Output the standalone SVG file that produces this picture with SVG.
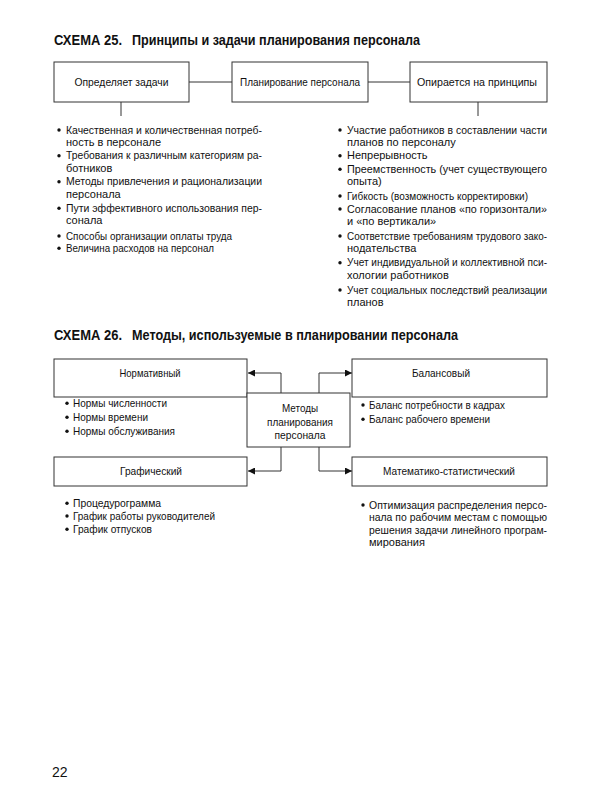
<svg xmlns="http://www.w3.org/2000/svg" width="600" height="800" viewBox="0 0 600 800">
<defs>
<style>
.t{font-family:"Liberation Sans",Arial,sans-serif;font-size:14px;font-weight:bold;fill:#111}
.b{font-family:"Liberation Sans",Arial,sans-serif;font-size:11px;fill:#111}
.c{text-anchor:middle}
.box{fill:#fff;stroke:#333;stroke-width:1}
.ln{fill:none;stroke:#333;stroke-width:1}
.dot{fill:#111}
</style>
<marker id="ah" viewBox="0 0 10 10" refX="10" refY="5" markerWidth="8" markerHeight="7" markerUnits="userSpaceOnUse" orient="auto">
<path d="M0,0 L10,5 L0,10 z" fill="#111"/>
</marker>
</defs>
<rect width="600" height="800" fill="#fff"/>

<!-- Schema 25 -->
<text class="t" y="45"><tspan x="54" textLength="68" lengthAdjust="spacingAndGlyphs">СХЕМА 25.</tspan><tspan x="132" textLength="288" lengthAdjust="spacingAndGlyphs">Принципы и задачи планирования персонала</tspan></text>

<g id="connectors25">
<line class="ln" x1="189" y1="82" x2="232" y2="82"/>
<line class="ln" x1="368" y1="82" x2="410" y2="82"/>
<line class="ln" x1="121" y1="102" x2="121" y2="116"/>
<line class="ln" x1="478" y1="102" x2="478" y2="116"/>
</g>

<g id="n-zadachi">
<rect class="box" x="54" y="62" width="135" height="40"/>
<text class="b c" x="121.5" y="86" textLength="94" lengthAdjust="spacingAndGlyphs">Определяет задачи</text>
</g>
<g id="n-planirovanie">
<rect class="box" x="232" y="62" width="136" height="40"/>
<text class="b c" x="300" y="86" textLength="120" lengthAdjust="spacingAndGlyphs">Планирование персонала</text>
</g>
<g id="n-principy">
<rect class="box" x="410" y="62" width="137" height="40"/>
<text class="b c" x="477" y="86" textLength="120" lengthAdjust="spacingAndGlyphs">Опирается на принципы</text>
</g>

<g id="list-zadachi">
<circle class="dot" cx="59" cy="130" r="1.7"/>
<text class="b" x="66" y="133.5" textLength="196" lengthAdjust="spacingAndGlyphs">Качественная и количественная потреб-</text>
<text class="b" x="66" y="145.8">ность в персонале</text>
<circle class="dot" cx="59" cy="155.7" r="1.7"/>
<text class="b" x="66" y="159.2" textLength="196" lengthAdjust="spacingAndGlyphs">Требования к различным категориям ра-</text>
<text class="b" x="66" y="171.8">ботников</text>
<circle class="dot" cx="59" cy="181.7" r="1.7"/>
<text class="b" x="66" y="185.2" textLength="196" lengthAdjust="spacingAndGlyphs">Методы привлечения и рационализации</text>
<text class="b" x="66" y="197.8">персонала</text>
<circle class="dot" cx="59" cy="208.3" r="1.7"/>
<text class="b" x="66" y="211.8" textLength="196" lengthAdjust="spacingAndGlyphs">Пути эффективного использования пер-</text>
<text class="b" x="66" y="224.2">сонала</text>
<circle class="dot" cx="59" cy="236" r="1.7"/>
<text class="b" x="66" y="239.5" textLength="166" lengthAdjust="spacingAndGlyphs">Способы организации оплаты труда</text>
<circle class="dot" cx="59" cy="248.3" r="1.7"/>
<text class="b" x="66" y="251.8" textLength="148" lengthAdjust="spacingAndGlyphs">Величина расходов на персонал</text>
</g>

<g id="list-principy">
<circle class="dot" cx="340" cy="130" r="1.7"/>
<text class="b" x="347" y="133.5" textLength="200" lengthAdjust="spacingAndGlyphs">Участие работников в составлении части</text>
<text class="b" x="347" y="145.8">планов по персоналу</text>
<circle class="dot" cx="340" cy="155.7" r="1.7"/>
<text class="b" x="347" y="159.2">Непрерывность</text>
<circle class="dot" cx="340" cy="169.3" r="1.7"/>
<text class="b" x="347" y="172.8" textLength="200" lengthAdjust="spacingAndGlyphs">Преемственность (учет существующего</text>
<text class="b" x="347" y="185.2">опыта)</text>
<circle class="dot" cx="340" cy="196" r="1.7"/>
<text class="b" x="347" y="199.5" textLength="181" lengthAdjust="spacingAndGlyphs">Гибкость (возможность корректировки)</text>
<circle class="dot" cx="340" cy="209" r="1.7"/>
<text class="b" x="347" y="212.5" textLength="200" lengthAdjust="spacingAndGlyphs">Согласование планов «по горизонтали»</text>
<text class="b" x="347" y="224.8">и «по вертикали»</text>
<circle class="dot" cx="340" cy="236" r="1.7"/>
<text class="b" x="347" y="239.5" textLength="200" lengthAdjust="spacingAndGlyphs">Соответствие требованиям трудового зако-</text>
<text class="b" x="347" y="251.8">нодательства</text>
<circle class="dot" cx="340" cy="262.7" r="1.7"/>
<text class="b" x="347" y="266.2" textLength="200" lengthAdjust="spacingAndGlyphs">Учет индивидуальной и коллективной пси-</text>
<text class="b" x="347" y="278.5">хологии работников</text>
<circle class="dot" cx="340" cy="290" r="1.7"/>
<text class="b" x="347" y="293.5" textLength="200" lengthAdjust="spacingAndGlyphs">Учет социальных последствий реализации</text>
<text class="b" x="347" y="305.8">планов</text>
</g>

<!-- Schema 26 -->
<text class="t" y="340"><tspan x="54" textLength="68" lengthAdjust="spacingAndGlyphs">СХЕМА 26.</tspan><tspan x="132" textLength="326" lengthAdjust="spacingAndGlyphs">Методы, используемые в планировании персонала</tspan></text>

<g id="connectors26">
<polyline class="ln" points="281,393 281,373 248,373" marker-end="url(#ah)"/>
<polyline class="ln" points="319,393 319,373 352,373" marker-end="url(#ah)"/>
<polyline class="ln" points="281,447 281,471 248,471" marker-end="url(#ah)"/>
<polyline class="ln" points="319,447 319,471 352,471" marker-end="url(#ah)"/>
</g>

<g id="n-normativ">
<rect class="box" x="54" y="359" width="193" height="38"/>
<text class="b c" x="150" y="377" textLength="61" lengthAdjust="spacingAndGlyphs">Нормативный</text>
</g>
<g id="n-balans">
<rect class="box" x="352" y="359" width="195" height="38"/>
<text class="b c" x="441" y="377" textLength="58" lengthAdjust="spacingAndGlyphs">Балансовый</text>
</g>
<g id="n-metody">
<rect class="box" x="247" y="393" width="103" height="54"/>
<text class="b c" x="300" y="412" textLength="36" lengthAdjust="spacingAndGlyphs">Методы</text>
<text class="b c" x="300" y="425.5" textLength="66" lengthAdjust="spacingAndGlyphs">планирования</text>
<text class="b c" x="300" y="439" textLength="51" lengthAdjust="spacingAndGlyphs">персонала</text>
</g>
<g id="n-grafich">
<rect class="box" x="54" y="457" width="193" height="29"/>
<text class="b c" x="151" y="474.5" textLength="62" lengthAdjust="spacingAndGlyphs">Графический</text>
</g>
<g id="n-matstat">
<rect class="box" x="352" y="457" width="195" height="29"/>
<text class="b c" x="449" y="474.5" textLength="132" lengthAdjust="spacingAndGlyphs">Математико-статистический</text>
</g>

<g id="list-normativ">
<circle class="dot" cx="67" cy="403.3" r="1.7"/>
<text class="b" x="73" y="407" textLength="94" lengthAdjust="spacingAndGlyphs">Нормы численности</text>
<circle class="dot" cx="67" cy="417.3" r="1.7"/>
<text class="b" x="73" y="421" textLength="75" lengthAdjust="spacingAndGlyphs">Нормы времени</text>
<circle class="dot" cx="67" cy="431.3" r="1.7"/>
<text class="b" x="73" y="435" textLength="102" lengthAdjust="spacingAndGlyphs">Нормы обслуживания</text>
</g>
<g id="list-balans">
<circle class="dot" cx="363" cy="405" r="1.7"/>
<text class="b" x="369" y="408.5" textLength="136" lengthAdjust="spacingAndGlyphs">Баланс потребности в кадрах</text>
<circle class="dot" cx="363" cy="419.3" r="1.7"/>
<text class="b" x="369" y="423" textLength="121" lengthAdjust="spacingAndGlyphs">Баланс рабочего времени</text>
</g>
<g id="list-grafich">
<circle class="dot" cx="67" cy="503.3" r="1.7"/>
<text class="b" x="73" y="507" textLength="88" lengthAdjust="spacingAndGlyphs">Процедурограмма</text>
<circle class="dot" cx="67" cy="516" r="1.7"/>
<text class="b" x="73" y="519.5" textLength="142" lengthAdjust="spacingAndGlyphs">График работы руководителей</text>
<circle class="dot" cx="67" cy="529.3" r="1.7"/>
<text class="b" x="73" y="533" textLength="79" lengthAdjust="spacingAndGlyphs">График отпусков</text>
</g>
<g id="list-matstat">
<circle class="dot" cx="363" cy="505" r="1.7"/>
<text class="b" x="369" y="508.5" textLength="178" lengthAdjust="spacingAndGlyphs">Оптимизация распределения персо-</text>
<text class="b" x="369" y="521" textLength="178" lengthAdjust="spacingAndGlyphs">нала по рабочим местам с помощью</text>
<text class="b" x="369" y="533.5" textLength="178" lengthAdjust="spacingAndGlyphs">решения задачи линейного програм-</text>
<text class="b" x="369" y="546">мирования</text>
</g>

<text x="52" y="777" style="font-family:'Liberation Sans',Arial,sans-serif;font-size:14px;fill:#111">22</text>
</svg>
